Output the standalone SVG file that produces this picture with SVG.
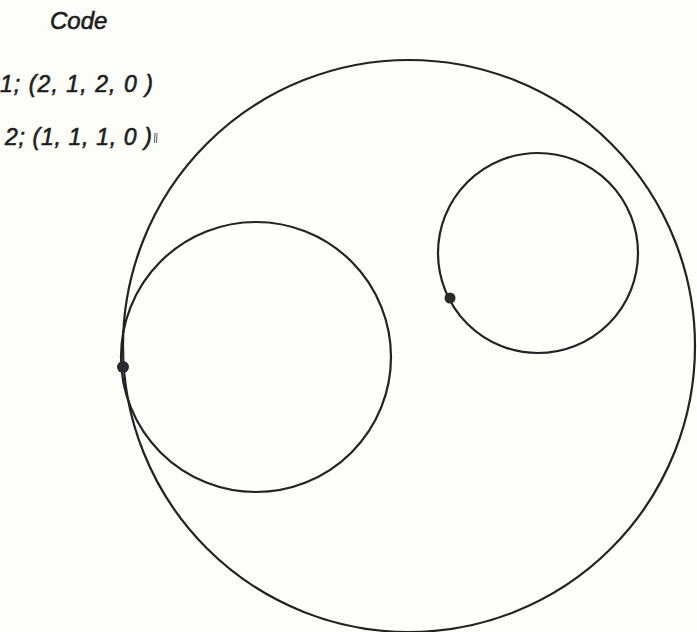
<svg xmlns="http://www.w3.org/2000/svg" width="697" height="632" viewBox="0 0 697 632">
<style>
.c{fill:none;stroke:#222;stroke-width:2.2}
.d{fill:#2a2a2a}
.t{font-family:"Liberation Sans",Arial,sans-serif;font-style:italic;fill:#1e1e1e;stroke:#1e1e1e;stroke-width:0.6}
</style>
<rect width="697" height="632" fill="#fdfdf9"/>
<g id="labels">
<text class="t" x="50" y="29" font-size="24">Code</text>
<text class="t" x="0" y="92" font-size="23" textLength="153" lengthAdjust="spacing">1; (2, 1, 2, 0 )</text>
<text class="t" x="5" y="145" font-size="23" textLength="147" lengthAdjust="spacing">2; (1, 1, 1, 0 )</text>
<path d="M155 133 L154.5 143 M157 133 L156.5 143" stroke="#333" stroke-width="0.8" fill="none"/>
</g>
<g id="outer-circle"><circle class="c" cx="409" cy="346" r="286"/></g>
<g id="left-circle"><circle class="c" cx="256" cy="357" r="135"/></g>
<g id="right-circle"><circle class="c" cx="538" cy="253" r="100"/></g>
<g id="dot-left"><circle class="d" cx="123" cy="367" r="6"/></g>
<g id="dot-right"><circle class="d" cx="450" cy="298" r="5.5"/></g>
</svg>
